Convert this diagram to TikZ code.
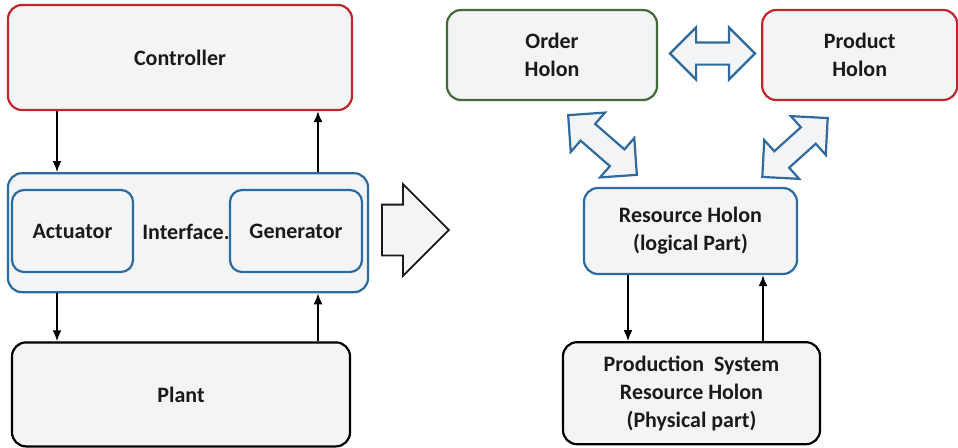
\documentclass[tikz,border=0pt]{standalone}
\usepackage{fontspec}
\setmainfont{Carlito}
\usetikzlibrary{positioning, arrows.meta, shapes.arrows}

\definecolor{rahmenrot}{HTML}{C0262D}
\definecolor{rahmengruen}{HTML}{44693C}
\definecolor{rahmenblau}{HTML}{2E6A9E}
\definecolor{boxgrau}{HTML}{F3F4F6}
\definecolor{textgrau}{HTML}{1A1A1A}

\begin{document}
\begin{tikzpicture}[
        x=1pt, y=-1pt,
        font=\fontsize{22}{28}\selectfont\bfseries,
        box/.style={draw, line width=2.2pt, fill=boxgrau, text=textgrau, align=center, rounded corners=14pt, inner sep=0pt},
        arrow/.style={draw, line width=1.9pt, -{Latex[length=11pt, width=9pt]}},
        dpfeil/.style={double arrow, draw=rahmenblau, line width=2.2pt, fill=boxgrau, inner sep=10pt, double arrow head extend=15pt}
    ]
    \useasboundingbox (0,0) rectangle (958,447);

    % Steuerung links
    \node (controller) [box, draw=rahmenrot, minimum width=344pt, minimum height=105pt] at (180,57.5) {Controller};
    \node (interface) [box, draw=rahmenblau, minimum width=360pt, minimum height=119pt, below=61pt of controller, xshift=8pt] {};
    \node (plant) [box, draw=black, minimum width=338pt, minimum height=104pt, below=48pt of interface, xshift=-7pt] {Plant};
    \node (actuator) [box, draw=rahmenblau, rounded corners=12pt, minimum width=121pt, minimum height=82pt] at (72.5,231) {Actuator};
    \node (generator) [box, draw=rahmenblau, rounded corners=12pt, minimum width=132pt, minimum height=82pt] at (296,231) {Generator};
    \node (interfacetext) [text=textgrau] at (186,232) {Interface.};

    % Uebergang
    \node (umwandlung) [single arrow, draw=textgrau, line width=1.8pt, fill=boxgrau, inner xsep=0pt, inner ysep=24.5pt, minimum height=67pt, single arrow head extend=20.5pt, anchor=tail] at (381,230) {};

    % Holonen rechts
    \node (order) [box, draw=rahmengruen, minimum width=210pt, minimum height=90pt] at (552,55) {Order\\Holon};
    \node (product) [box, draw=rahmenrot, minimum width=195pt, minimum height=90pt, right=103pt of order] {Product\\Holon};
    \node (resource) [box, draw=rahmenblau, minimum width=213pt, minimum height=86pt] at (690.5,231) {Resource Holon\\(logical Part)};
    \node (production) [box, draw=black, minimum width=257pt, minimum height=102pt, below=66pt of resource, xshift=1pt] {Production\ \ System\\Resource Holon\\(Physical part)};

    \node (ab1) [dpfeil, minimum height=85pt] at (712.5,53.5) {};
    \node (ab2) [dpfeil, minimum height=91pt, rotate=-41] at (602.5,145) {};
    \node (ab3) [dpfeil, minimum height=88pt, rotate=42] at (795,147.5) {};

    % Verbindungen
    \coordinate (lx1) at (57,0);
    \coordinate (lx2) at (318,0);
    \coordinate (rx1) at (628,0);
    \coordinate (rx2) at (763,0);
    \draw[arrow] (controller.south -| lx1) -- (interface.north -| lx1);
    \draw[arrow] (interface.north -| lx2) -- (controller.south -| lx2);
    \draw[arrow] (interface.south -| lx1) -- (plant.north -| lx1);
    \draw[arrow] (plant.north -| lx2) -- (interface.south -| lx2);
    \draw[arrow] (resource.south -| rx1) -- (production.north -| rx1);
    \draw[arrow] (production.north -| rx2) -- (resource.south -| rx2);

\end{tikzpicture}
\end{document}
